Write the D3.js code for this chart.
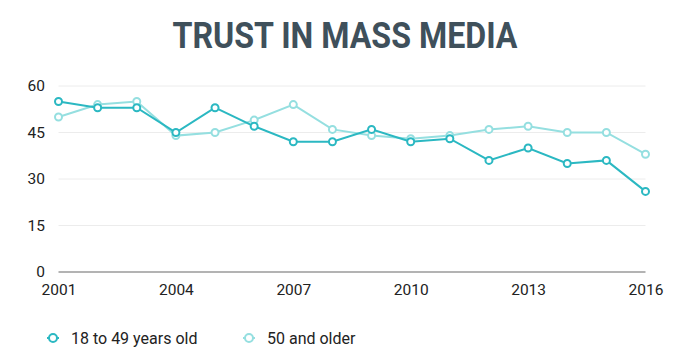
<!DOCTYPE html>
<html><head><meta charset="utf-8">
<script src="https://cdn.jsdelivr.net/npm/d3@7"></script>
<style>body{margin:0;background:#fff}svg{display:block}</style>
</head><body><svg id="c" width="688" height="363"></svg>
<script>
const years = [2001,2002,2003,2004,2005,2006,2007,2008,2009,2010,2011,2012,2013,2014,2015,2016];
const young = [55,53,53,45,53,47,42,42,46,42,43,36,40,35,36,26];
const older = [50,54,55,44,45,49,54,46,44,43,44,46,47,45,45,38];
const yTicks = [0,15,30,45,60];
const xTicks = [2001,2004,2007,2010,2013,2016];
const seriesNames = ["18 to 49 years old","50 and older"];
const colors = ["#2bb8c2","#95dfe0"];

const svg = d3.select("#c");
const x = d3.scaleLinear().domain([2001,2016]).range([58.5,645.5]);
const y = d3.scaleLinear().domain([0,60]).range([272,86]);

svg.append("text").attr("x",345).attr("y",48).attr("text-anchor","middle")
  .attr("font-family","Roboto").attr("font-weight","700").attr("font-size",37)
  .attr("fill","#3f505b").attr("textLength",345).attr("lengthAdjust","spacingAndGlyphs")
  .text("TRUST IN MASS MEDIA");

const grid = svg.append("g");
grid.selectAll("line").data(yTicks).join("line")
  .attr("x1",x(2001)).attr("x2",x(2016)).attr("y1",d=>y(d)).attr("y2",d=>y(d))
  .attr("stroke",d=>d===0?"#9a9a9a":"#ececec").attr("stroke-width",d=>d===0?1.5:1);

const yAxis = d3.axisLeft(y).tickValues(yTicks).tickSize(0).tickPadding(0);
const ya = svg.append("g").attr("transform","translate(45,0)").call(yAxis);
ya.select(".domain").remove();
ya.selectAll("text").attr("font-family","Roboto").attr("font-size",15.5).attr("fill","#222");

const xAxis = d3.axisBottom(x).tickValues(xTicks).tickFormat(d3.format("d")).tickSize(0).tickPadding(0);
const xa = svg.append("g").attr("transform","translate(0,284)").call(xAxis);
xa.select(".domain").remove();
xa.selectAll("text").attr("font-family","Roboto").attr("font-size",15.5).attr("fill","#222");

const line = d3.line().x((d,i)=>x(years[i])).y(d=>y(d));
[older, young].forEach((vals,k)=>{
  const c = k===0?colors[1]:colors[0];
  const g = svg.append("g");
  g.append("path").attr("d",line(vals)).attr("fill","none").attr("stroke",c).attr("stroke-width",2);
  g.selectAll("circle").data(vals).join("circle")
    .attr("cx",(d,i)=>x(years[i])).attr("cy",d=>y(d)).attr("r",3.5)
    .attr("fill","#fff").attr("stroke",c).attr("stroke-width",2);
});

const legX = [53,249];
seriesNames.forEach((n,i)=>{
  const g = svg.append("g").attr("transform",`translate(${legX[i]},338)`);
  g.append("line").attr("x1",-6).attr("x2",6).attr("stroke",colors[i]).attr("stroke-width",2);
  g.append("circle").attr("r",4).attr("fill","#fff").attr("stroke",colors[i]).attr("stroke-width",2);
  g.append("text").attr("x",18).attr("y",5.5).attr("font-family","Roboto").attr("font-size",16)
    .attr("fill","#222").text(n);
});
</script></body></html>
